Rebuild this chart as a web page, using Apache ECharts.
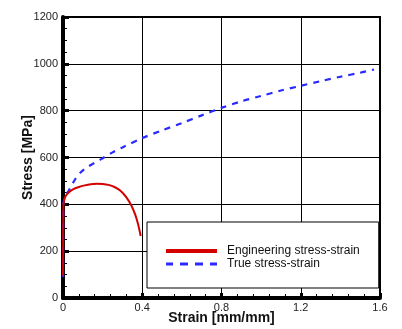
<!DOCTYPE html>
<html><head><meta charset="utf-8">
<script src="https://cdn.jsdelivr.net/npm/echarts@6/dist/echarts.min.js"></script>
<style>html,body{margin:0;padding:0;background:#fff}#c{width:402px;height:329px}</style>
</head><body><div id="c"></div>
<script>
const seriesNames = ['Engineering stress-strain', 'True stress-strain'];
const engStrain = [0.0004, 0.002, 0.006, 0.015, 0.03, 0.05, 0.08, 0.11, 0.14, 0.17, 0.2, 0.23, 0.26, 0.29, 0.32, 0.345, 0.365, 0.38, 0.392];
const engStress = [95, 395, 418, 438, 452, 464, 474, 481, 486, 488, 487, 483, 474, 458, 430, 395, 355, 312, 265];
const trueStrain = [0.0004, 0.002, 0.01, 0.03, 0.06, 0.09, 0.13, 0.19, 0.25, 0.3, 0.4, 0.5, 0.6, 0.7, 0.8, 0.9, 1.0, 1.1, 1.2, 1.3, 1.4, 1.5, 1.57];
const trueStress = [90, 400, 432, 460, 505, 537, 563, 592, 622, 643, 683, 716, 747, 780, 812, 840, 863, 886, 906, 926, 945, 962, 976];
const xTicks = [0, 0.4, 0.8, 1.2, 1.6];
const yTicks = [0, 200, 400, 600, 800, 1000, 1200];

const chart = echarts.init(document.getElementById('c'), null, {renderer: 'canvas'});
const lbl = {color: '#222', fontFamily: 'Liberation Sans, Arial', fontSize: 11};
chart.setOption({
  animation: false,
  grid: {left: 63, right: 22, top: 17, bottom: 31, show: true, borderColor: '#000', borderWidth: 2, outerBoundsMode: 'none', containLabel: false},
  xAxis: {
    type: 'value', min: xTicks[0], max: xTicks[xTicks.length - 1], interval: 0.4,
    name: 'Strain [mm/mm]', nameLocation: 'middle', nameGap: 13, nameMoveOverlap: false,
    nameTextStyle: {fontFamily: 'Liberation Sans, Arial', fontWeight: 'bold', fontSize: 14, color: '#111'},
    axisLine: {lineStyle: {color: '#000', width: 4}},
    axisTick: {inside: true, length: 5, lineStyle: {color: '#000', width: 3}},
    minorTick: {show: true, splitNumber: 5, length: 4, lineStyle: {color: '#000', width: 1}},
    axisLabel: Object.assign({margin: 4, formatter: v => String(v)}, lbl),
    splitLine: {show: true, lineStyle: {color: '#000', width: 1}}
  },
  yAxis: {
    type: 'value', min: yTicks[0], max: yTicks[yTicks.length - 1], interval: 200,
    name: 'Stress [MPa]', nameLocation: 'middle', nameGap: 28, nameMoveOverlap: false,
    nameTextStyle: {fontFamily: 'Liberation Sans, Arial', fontWeight: 'bold', fontSize: 14, color: '#111'},
    axisLine: {lineStyle: {color: '#000', width: 4}},
    axisTick: {inside: true, length: 6, lineStyle: {color: '#000', width: 3}},
    minorTick: {show: true, splitNumber: 4, length: 4, lineStyle: {color: '#000', width: 1}},
    axisLabel: Object.assign({margin: 5, formatter: v => String(v)}, lbl),
    splitLine: {show: true, lineStyle: {color: '#000', width: 1}}
  },
  legend: {
    orient: 'vertical', left: 147, top: 222,
    padding: [23, 19, 18, 19], itemGap: 1,
    itemWidth: 51, itemHeight: 12,
    borderColor: '#000', borderWidth: 1, backgroundColor: '#fff',
    textStyle: {fontFamily: 'Liberation Sans, Arial', fontSize: 12, color: '#111', padding: [0, 0, 0, 5]},
    data: [
      {name: seriesNames[0], icon: 'path://M0,0L51,0L51,4L0,4Z', itemStyle: {color: '#d40000'}},
      {name: seriesNames[1], icon: 'path://M0,0L7,0L7,3L0,3Z M14,0L22,0L22,3L14,3Z M29,0L37,0L37,3L29,3Z M44,0L51,0L51,3L44,3Z', itemStyle: {color: '#2a2aff'}}
    ]
  },
  series: [
    {name: seriesNames[0], type: 'line', symbol: 'none', smooth: 0.3, z: 3,
     lineStyle: {color: '#d40000', width: 2},
     itemStyle: {color: '#d40000'},
     data: engStrain.map((x, i) => [x, engStress[i]])},
    {name: seriesNames[1], type: 'line', symbol: 'none', smooth: 0.3, z: 2,
     lineStyle: {color: '#2a2aff', width: 2.2, type: [6, 6]},
     itemStyle: {color: '#2a2aff'},
     data: trueStrain.map((x, i) => [x, trueStress[i]])}
  ]
});
</script></body></html>
